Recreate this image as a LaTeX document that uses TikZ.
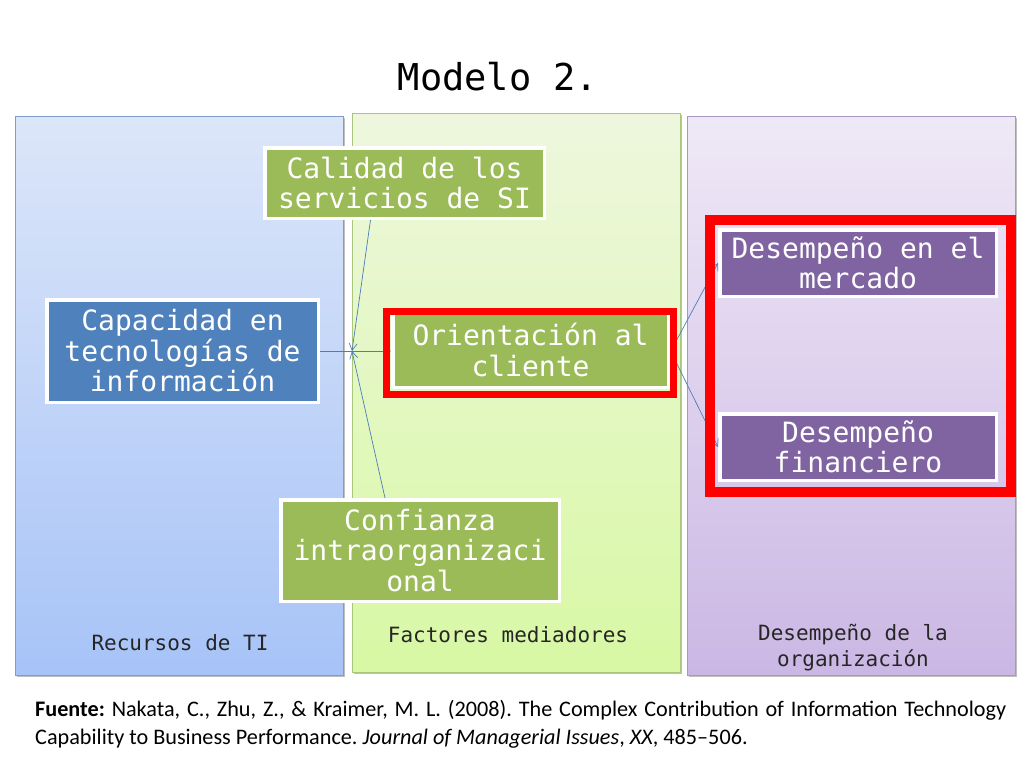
\documentclass[tikz,border=0pt]{standalone}
\usepackage{fontspec}
\setmainfont{Carlito}
\newfontfamily\boxfont{DejaVu Sans Mono}
\usetikzlibrary{arrows.meta,shadows,calc}
\definecolor{pblueT}{HTML}{DCE6F9}
\definecolor{pblueB}{HTML}{A7C3F7}
\definecolor{pblueD}{HTML}{7F9CCB}
\definecolor{pgreenT}{HTML}{EEF7DE}
\definecolor{pgreenB}{HTML}{D8F8A4}
\definecolor{pgreenD}{HTML}{A9C67C}
\definecolor{ppurT}{HTML}{EFE9F6}
\definecolor{ppurB}{HTML}{CBB7E4}
\definecolor{ppurD}{HTML}{A897C2}
\definecolor{bxgreen}{HTML}{9BBB59}
\definecolor{bxblue}{HTML}{4F81BD}
\definecolor{bxpur}{HTML}{8064A2}
\definecolor{conncol}{HTML}{4A7EBB}
\definecolor{frred}{HTML}{FF0000}
\frenchspacing
\tikzset{
  panel/.style={draw=#1, line width=0.7pt, minimum width=328pt, minimum height=559pt, inner sep=0pt,
    drop shadow={shadow xshift=1.5pt, shadow yshift=-1.5pt, opacity=0.25, fill=black}},
  diagbox/.style={draw=white, line width=3.5pt, fill=#1, text=white, align=center, inner sep=0pt,
    font=\boxfont\fontsize{28}{30.5}\selectfont,
    drop shadow={shadow xshift=1.5pt, shadow yshift=-2pt, opacity=0.35, fill=black}},
  plabel/.style={font=\boxfont\fontsize{21}{26}\selectfont, text=black!85, align=center, inner sep=0pt},
  conn/.style={draw=conncol, line width=0.7pt, -{Straight Barb[length=7pt,width=8pt]}},
  redframe/.style={draw=frred, line width=#1, inner sep=0pt},
  foot/.style={anchor=base west, inner sep=0pt, font=\fontsize{22.2}{26}\selectfont}
}
\begin{document}
\begin{tikzpicture}[x=1pt,y=-1pt]
\useasboundingbox (0,0) rectangle (1024,768);
\fill[white] (0,0) rectangle (1024,768);

% title
\node[font=\boxfont\fontsize{37}{40}\selectfont, inner sep=0pt] (title) at (498,77) {Modelo 2.};

% panels
\node[panel=pblueD, top color=pblueT, bottom color=pblueB] (p1) at (179,395.5) {};
\node[panel=pgreenD, top color=pgreenT, bottom color=pgreenB] (p2) at (516,392.5) {};
\node[panel=ppurD, top color=ppurT, bottom color=ppurB] (p3) at (851,395.5) {};

\node[plabel] (l1) at (180,643) {Recursos de TI};
\node[plabel] (l2) at (508,635) {Factores mediadores};
\node[plabel] (l3) at (853,648) {Desempeño de la\\organización};

% boxes
\node[diagbox=bxgreen, minimum width=279.5pt, minimum height=70.5pt] (cal) at (404.5,183) {Calidad de los\\servicios de SI};
\node[diagbox=bxblue, minimum width=271.5pt, minimum height=102.5pt] (cap) at (182.5,351) {Capacidad en\\tecnologías de\\información};
\node[diagbox=bxgreen, minimum width=275.5pt, minimum height=74.5pt] (ori) at (530.5,350) {Orientación al\\cliente};
\node[diagbox=bxgreen, minimum width=278.5pt, minimum height=101.5pt] (conf) at (420,550.5) {Confianza\\intraorganizaci\\onal};
\node[diagbox=bxpur, minimum width=276.5pt, minimum height=66.5pt] (mer) at (858,263) {Desempeño en el\\mercado};
\node[diagbox=bxpur, minimum width=276.5pt, minimum height=66.5pt] (fin) at (858,447) {Desempeño\\financiero};

% connectors
\coordinate (m) at (352,351);
\coordinate (cs) at ($(cal.south)+(-34,0)$);
\coordinate (fs) at ($(conf.north)+(-35,0)$);
\draw[conn] (cap.east |- m) -- (ori.west |- m);
\draw[conn] (cs) -- (m);
\draw[conn] (fs) -- (m);
\coordinate (o1) at ($(ori.east)+(4,-5)$);
\coordinate (o2) at ($(ori.east)+(4,8)$);
\draw[conn] (o1) -- (mer.west);
\draw[conn] (o2) -- (fin.west);

% red frames
\node[redframe=7pt, minimum width=287pt, minimum height=82.5pt] (rf1) at (529.5,352.75) {};
\node[redframe=10pt, minimum width=301pt, minimum height=272pt] (rf2) at (860.5,356) {};

% footer
\node[foot] (f1) at (35,716) {\makebox[971pt][s]{\textbf{Fuente:} Nakata, C., Zhu, Z., \& Kraimer, M. L. (2008). The Complex Contribution of Information Technology}};
\node[foot] (f2) at (35,744) {Capability to Business Performance. \textit{Journal of Managerial Issues}, \textit{XX}, 485–506.};
\end{tikzpicture}
\end{document}
